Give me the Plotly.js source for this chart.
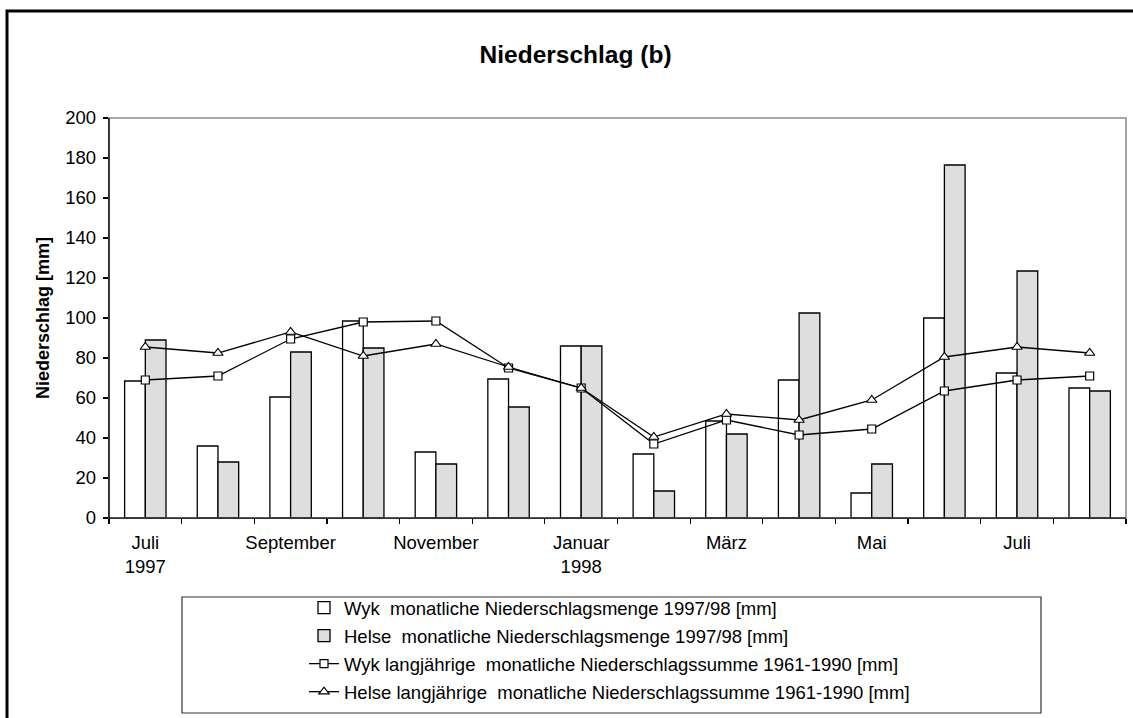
<!DOCTYPE html>
<html>
<head>
<meta charset="utf-8">
<script src="https://cdn.plot.ly/plotly-3.0.1.min.js"></script>
<style>html,body{margin:0;padding:0;background:#fff;overflow:hidden;width:1133px;height:718px;}#chart{width:1133px;height:718px;overflow:hidden;position:relative;}</style>
</head>
<body>
<div id="chart"></div>
<script>
// Months Juli 1997 .. August 1998
var months = ["Jul 1997","Aug 1997","Sep 1997","Okt 1997","Nov 1997","Dez 1997","Jan 1998","Feb 1998","Mär 1998","Apr 1998","Mai 1998","Jun 1998","Jul 1998","Aug 1998"];
var wykMonthly   = [68.5, 36, 60.5, 98.5, 33, 69.5, 86, 32, 48.5, 69, 12.5, 100, 72.5, 65];
var helseMonthly = [89, 28, 83, 85, 27, 55.5, 86, 13.5, 42, 102.5, 27, 176.5, 123.5, 63.5];
var wykLongTerm   = [69, 71, 89.5, 98, 98.5, 75, 65, 37, 49, 41.5, 44.5, 63.5, 69, 71];
var helseLongTerm = [85.5, 82.5, 93, 81, 87, 75.5, 65, 40.5, 52, 49, 59, 80.5, 85.5, 82.5];
var tickMonthIdx  = [0, 2, 4, 6, 8, 10, 12];
var tickLabels    = ["Juli<br>1997", "September", "November", "Januar<br>1998", "März", "Mai", "Juli"];
var seriesNames = [
  "Wyk\u00a0 monatliche Niederschlagsmenge 1997/98 [mm]",
  "Helse\u00a0 monatliche Niederschlagsmenge 1997/98 [mm]",
  "Wyk langjährige\u00a0 monatliche Niederschlagssumme 1961-1990 [mm]",
  "Helse langjährige\u00a0 monatliche Niederschlagssumme 1961-1990 [mm]"
];

var xIdx = months.map(function(m, i){ return i; });
var FONT = "Liberation Sans, Arial, sans-serif";

var traces = [
  {type:"bar", x:xIdx, y:wykMonthly, name:seriesNames[0], legendgroup:"a",
   marker:{color:"#ffffff", line:{color:"#000000", width:1.3}}},
  {type:"bar", x:xIdx, y:helseMonthly, name:seriesNames[1], legendgroup:"b",
   marker:{color:"#dedede", line:{color:"#000000", width:1.3}}},
  {type:"scatter", mode:"lines+markers", x:xIdx, y:wykLongTerm, name:seriesNames[2], legendgroup:"c",
   line:{color:"#000000", width:1.3},
   marker:{symbol:"square", size:8, color:"#ffffff", line:{color:"#000000", width:1.2}}},
  {type:"scatter", mode:"lines+markers", x:xIdx, y:helseLongTerm, name:seriesNames[3], legendgroup:"d",
   line:{color:"#000000", width:1.3},
   marker:{symbol:"triangle-up", size:9, color:"#ffffff", line:{color:"#000000", width:1.2}}}
];

var L = 109, R = 1126, T = 118, B = 518;
function px(x){ return (x - L) / (R - L); }
function py(y){ return (B - y) / (B - T); }

var layout = {
  width:1133, height:718,
  margin:{l:L, r:1133-R, t:T, b:718-B, pad:0},
  paper_bgcolor:"#ffffff", plot_bgcolor:"#ffffff",
  font:{family:FONT, size:18.5, color:"#000000"},
  title:{text:"<b>Niederschlag (b)</b>", font:{family:FONT, size:24.5, color:"#000"},
         x:0.508, xref:"container", xanchor:"center", y:1-54/718, yref:"container", yanchor:"middle"},
  barmode:"group", bargap:0.43, bargroupgap:0,
  showlegend:true,
  legend:{x:px(304), xanchor:"left", y:py(589), yanchor:"top", bgcolor:"rgba(0,0,0,0)",
          borderwidth:0, tracegroupgap:1, font:{family:FONT, size:18.5, color:"#000"}},
  xaxis:{range:[-0.5, 13.5], tickmode:"array", tickvals:tickMonthIdx, ticktext:tickLabels,
         ticks:"", ticklabelstandoff:8, showgrid:false, zeroline:false, showline:true, linecolor:"#000", linewidth:1.2,
         tickfont:{family:FONT, size:18.5, color:"#000"}, automargin:false, fixedrange:true,
         minor:{tick0:-0.5, dtick:1, ticks:"outside", ticklen:5, tickwidth:1.2, tickcolor:"#000", showgrid:false}},
  yaxis:{range:[0, 200], tickmode:"linear", tick0:0, dtick:20, ticks:"outside", ticklen:5, tickwidth:1.2,
         tickcolor:"#000", ticklabelstandoff:3, showgrid:false, zeroline:false, showline:true, linecolor:"#000", linewidth:1.2,
         tickfont:{family:FONT, size:18.5, color:"#000"}, automargin:false, fixedrange:true,
         title:{text:"<b>Niederschlag [mm]</b>", font:{family:FONT, size:18, color:"#000"}, standoff:11}},
  shapes:[
    {type:"rect", xref:"paper", yref:"paper", x0:0, x1:1, y0:0, y1:1, line:{color:"#8c8c8c", width:1.6}, layer:"above"},
    {type:"line", xref:"paper", yref:"paper", x0:0, x1:0, y0:0, y1:1, line:{color:"#000", width:1.2}, layer:"above"},
    {type:"line", xref:"paper", yref:"paper", x0:0, x1:1, y0:0, y1:0, line:{color:"#000", width:1.2}, layer:"above"},
    {type:"rect", xref:"paper", yref:"paper", x0:px(182), x1:px(1041), y0:py(713), y1:py(597), line:{color:"#333", width:1.2}, layer:"above"},
    {type:"rect", xref:"paper", yref:"paper", x0:px(7), x1:px(1137), y0:py(722), y1:py(11), line:{color:"#000", width:3}, layer:"above"}
  ]
};

Plotly.newPlot("chart", traces, layout, {displayModeBar:false, staticPlot:true});
</script>
</body>
</html>
